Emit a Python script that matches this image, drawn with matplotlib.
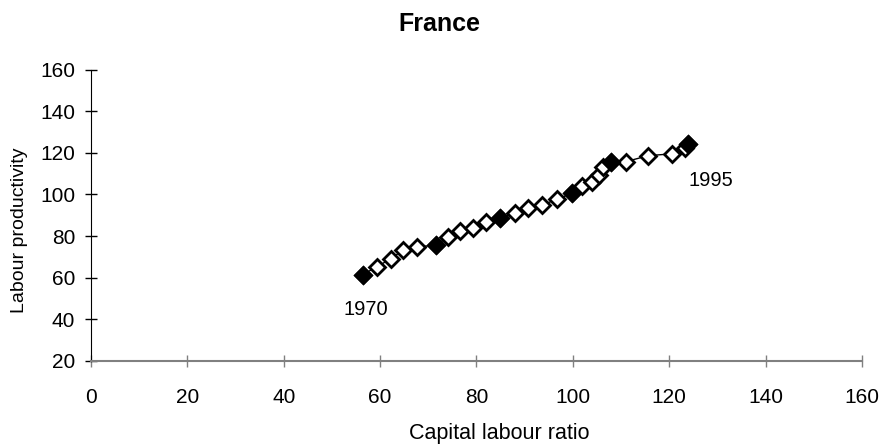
import matplotlib
matplotlib.use("Agg")
import matplotlib.pyplot as plt

plt.rcParams["font.family"] = ["Liberation Sans", "DejaVu Sans"]

# capital labour ratio / labour productivity, 1970-1995
years = list(range(1970, 1996))
cap_ratio = [56.4, 59.4, 62.2, 64.7, 67.7, 71.6, 74.1, 76.6, 79.2, 81.9,
             84.9, 88.0, 90.7, 93.5, 96.7, 99.9, 102.0, 103.9, 105.5, 106.3,
             108.0, 111.1, 115.6, 120.5, 123.2, 123.9]
productivity = [61.5, 65.3, 69.1, 73.1, 74.9, 75.5, 79.7, 82.4, 84.1, 86.8,
                88.6, 91.0, 93.3, 94.8, 97.7, 100.6, 103.9, 106.1, 109.3, 113.0,
                115.4, 115.8, 118.6, 119.5, 122.2, 124.3]
xticks = list(range(0, 161, 20))
yticks = list(range(20, 161, 20))

fig = plt.figure(figsize=(8.85, 4.45), dpi=100)
ax = fig.add_axes([0.1028, 0.1888, 0.8712, 0.655])

ax.plot(cap_ratio, productivity, color="black", lw=1, marker="D", ms=8,
        mfc="white", mec="black", mew=2, zorder=2)
# filled markers every 5 years
fx = [x for x, y in zip(cap_ratio, years) if y % 5 == 0]
fy = [p for p, y in zip(productivity, years) if y % 5 == 0]
ax.plot(fx, fy, ls="none", marker="D", ms=8, mfc="black", mec="black", mew=2, zorder=3)

ax.text(57.0, 44.5, "1970", fontsize=14.5, ha="center", va="center")
ax.text(128.6, 106.5, "1995", fontsize=14.5, ha="center", va="center")

ax.set_xlim(0, 160)
ax.set_ylim(20, 160)
ax.set_xticks(xticks)
ax.set_yticks(yticks)
ax.tick_params(direction="inout", length=9, width=1, labelsize=15)
ax.tick_params(axis="x", colors="#808080", labelcolor="black", pad=15)
ax.tick_params(axis="y", pad=7)
for s in ["top", "right"]:
    ax.spines[s].set_visible(False)
ax.spines["bottom"].set_color("#808080")
ax.spines["bottom"].set_linewidth(1.5)

fig.text(499 / 885, 1 - 433 / 445, "Capital labour ratio", fontsize=15.5,
         ha="center", va="center")
fig.text(20 / 885, 1 - 230 / 445, "Labour productivity", fontsize=14,
         ha="center", va="center", rotation=90)
fig.text(439 / 885, 1 - 24 / 445, "France", fontsize=18, fontweight="bold",
         ha="center", va="center")

fig.savefig("out.png", dpi=100)
